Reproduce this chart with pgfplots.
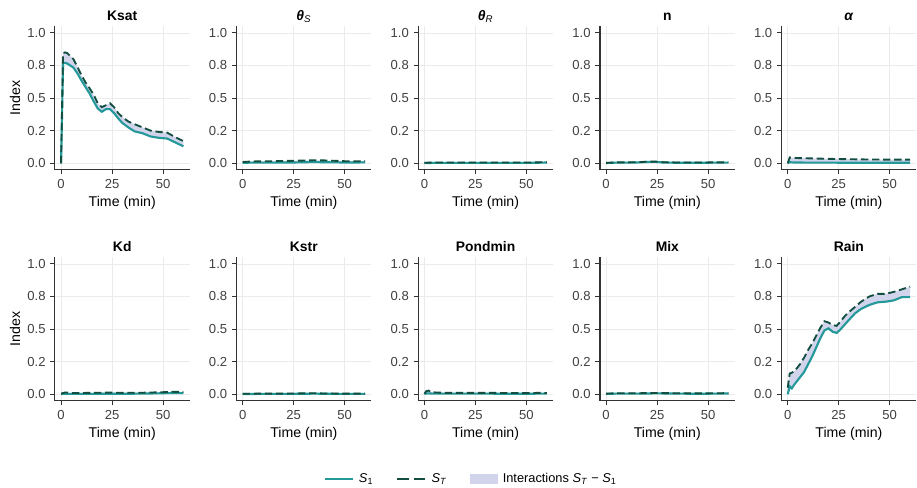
\documentclass[border=0pt]{standalone}
\usepackage{fontspec}
\setmainfont{Liberation Sans}
\usepackage{pgfplots}
\pgfplotsset{compat=1.18}
\usepackage{pgfplotstable}
\usepgfplotslibrary{fillbetween}

\definecolor{sone}{HTML}{25999A}
\definecolor{stot}{HTML}{124F40}
\definecolor{inter}{HTML}{D2D4EC}

% t = time (min), s1 = first order, st = total order
\pgfplotstableread{
t s1 st
0 0 0
1 0.77 0.845
2 0.77 0.85
3 0.765 0.845
4 0.755 0.83
6 0.735 0.80
8 0.69 0.74
10 0.635 0.675
12 0.585 0.62
14 0.535 0.575
16 0.475 0.525
18 0.42 0.46
20 0.395 0.43
22 0.415 0.445
24 0.415 0.46
26 0.385 0.43
28 0.345 0.385
30 0.31 0.355
33 0.275 0.32
36 0.245 0.30
40 0.23 0.275
44 0.205 0.25
48 0.195 0.24
52 0.19 0.235
56 0.16 0.20
60 0.13 0.17
}\ksat
\pgfplotstableread{
t s1 st
0 0.004 0.010
5 0.005 0.014
10 0.005 0.015
15 0.005 0.016
20 0.006 0.018
25 0.006 0.019
30 0.008 0.021
35 0.009 0.023
40 0.008 0.022
45 0.007 0.019
50 0.006 0.016
55 0.006 0.015
60 0.007 0.017
}\thetas
\pgfplotstableread{
t s1 st
0 0.002 0.004
5 0.003 0.006
10 0.003 0.006
20 0.003 0.006
30 0.003 0.006
40 0.003 0.006
50 0.003 0.006
55 0.004 0.007
60 0.006 0.009
}\thetar
\pgfplotstableread{
t s1 st
0 0.002 0.003
5 0.005 0.007
10 0.005 0.007
15 0.006 0.008
20 0.010 0.012
24 0.011 0.013
28 0.006 0.008
35 0.004 0.006
45 0.004 0.006
55 0.005 0.007
60 0.005 0.007
}\nn
\pgfplotstableread{
t s1 st
0 0.000 0.000
1 0.008 0.045
3 0.006 0.042
5 0.006 0.040
10 0.005 0.038
20 0.005 0.034
30 0.004 0.031
40 0.004 0.029
50 0.004 0.028
60 0.004 0.028
}\alphap
\pgfplotstableread{
t s1 st
0 0.002 0.005
2 0.004 0.014
5 0.003 0.010
10 0.003 0.010
20 0.004 0.012
25 0.004 0.013
30 0.004 0.011
40 0.005 0.012
50 0.008 0.016
55 0.010 0.019
60 0.009 0.018
}\kd
\pgfplotstableread{
t s1 st
0 0.002 0.004
10 0.003 0.005
20 0.003 0.005
30 0.004 0.007
35 0.005 0.008
40 0.004 0.006
50 0.003 0.005
60 0.003 0.005
}\kstr
\pgfplotstableread{
t s1 st
0 0.003 0.004
1 0.006 0.025
2 0.007 0.028
4 0.005 0.015
10 0.005 0.011
20 0.005 0.011
30 0.005 0.011
40 0.004 0.010
50 0.004 0.009
57 0.005 0.011
60 0.005 0.010
}\pondmin
\pgfplotstableread{
t s1 st
0 0.003 0.005
5 0.005 0.008
15 0.005 0.008
25 0.007 0.010
35 0.005 0.008
45 0.004 0.007
55 0.005 0.008
60 0.006 0.009
}\mix
\pgfplotstableread{
t s1 st
0 0 0.05
1 0.06 0.16
2 0.045 0.165
3 0.07 0.175
4 0.09 0.19
6 0.13 0.23
8 0.17 0.28
10 0.23 0.34
12 0.29 0.39
14 0.36 0.45
16 0.43 0.51
18 0.49 0.56
20 0.505 0.55
22 0.48 0.53
24 0.47 0.525
26 0.50 0.56
28 0.535 0.60
30 0.57 0.63
33 0.62 0.67
36 0.655 0.71
40 0.685 0.75
44 0.705 0.77
48 0.71 0.77
52 0.72 0.785
56 0.745 0.805
60 0.745 0.825
}\rain

\newcommand{\ticksize}{\fontsize{9.8}{11}\selectfont}
\newcommand{\labsize}{\fontsize{10.6}{12}\selectfont}

\pgfplotsset{
  panel/.style={
    scale only axis, width=100.95pt, height=107.6pt, anchor=south west,
    xmin=-3, xmax=63, ymin=-0.05, ymax=1.05,
    axis x line*=bottom, axis y line*=left,
    axis line style={-, draw=black!80, line width=0.8pt},
    xtick={0,25,50}, ytick={0,0.25,0.5,0.75,1},
    yticklabels={0.0,0.2,0.5,0.8,1.0},
    tick align=outside, major tick length=3.5pt,
    tick style={draw=black!80, line width=0.6pt},
    grid=major, major grid style={draw=black!8, line width=0.5pt},
    ticklabel style={font=\ticksize, text=black!75},
    /pgf/number format/assume math mode=true,
    xlabel={Time (min)},
    xlabel style={font=\labsize, at={(axis description cs:0.5,0)}, anchor=base, yshift=-27.3pt},
    ylabel style={font=\labsize, at={(axis description cs:-0.297,0.5)}, anchor=center},
    title style={font=\bfseries\fontsize{10.4}{12}\selectfont, at={(axis description cs:0.5,1)}, anchor=base, yshift=-1.6pt},
  },
  s1line/.style={draw=sone, line width=1.6pt},
  stline/.style={draw=stot, line width=1.4pt, dash pattern=on 5.5pt off 2.8pt},
  ribbon/.style={fill=inter, draw=none},
}

% ribbon first (from two hidden paths), then the two lines on top
\newcommand{\panel}[4]{%
  \begin{axis}[panel, at={#1}, title={#2}, #4]
    \addplot[draw=none, name path=a, forget plot] table[x=t, y=s1] {#3};
    \addplot[draw=none, name path=b, forget plot] table[x=t, y=st] {#3};
    \addplot[ribbon] fill between[of=a and b];
    \addplot[s1line] table[x=t, y=s1] {#3};
    \addplot[stline] table[x=t, y=st] {#3};
  \end{axis}}

\begin{document}
\begin{tikzpicture}
\panel{(41.2pt,237.9pt)}{Ksat}{\ksat}{ylabel={Index}}
\panel{(177.4pt,237.9pt)}{\textit{θ}\textsubscript{\normalfont\itshape S}}{\thetas}{}
\panel{(313.7pt,237.9pt)}{\textit{θ}\textsubscript{\normalfont\itshape R}}{\thetar}{}
\panel{(450.0pt,237.9pt)}{n}{\nn}{}
\panel{(586.2pt,237.9pt)}{\textit{α}}{\alphap}{}
\panel{(41.2pt,64.65pt)}{Kd}{\kd}{ylabel={Index}}
\panel{(177.4pt,64.65pt)}{Kstr}{\kstr}{}
\panel{(313.7pt,64.65pt)}{Pondmin}{\pondmin}{}
\panel{(450.0pt,64.65pt)}{Mix}{\mix}{}
\panel{(586.2pt,64.65pt)}{Rain}{\rain}{}

\begin{axis}[hide axis, scale only axis, width=10pt, height=10pt,
  at={(353.5pt,6pt)}, anchor=center, xmin=0, xmax=1, ymin=0, ymax=1,
  legend columns=3,
  legend style={at={(0.5,0.5)}, anchor=center, draw=none, fill=none,
    font=\fontsize{9.6}{11}\selectfont,
    /tikz/every odd column/.append style={column sep=2pt},
    /tikz/every even column/.append style={column sep=15.5pt}},
  legend image code/.code={\draw[#1] (0pt,0pt) -- (21pt,0pt);}]
\addplot[draw=none, forget plot] coordinates {(0.5,0.5)};
\addlegendimage{s1line}
\addlegendentry{\textit{S}\textsubscript{1}}
\addlegendimage{stline, dash pattern=on 8.5pt off 4pt}
\addlegendentry{\textit{S}\textsubscript{\textit{T}}}
\addlegendimage{legend image code/.code={\fill[inter] (0pt,-3.4pt) rectangle (20pt,3.4pt);}}
\addlegendentry{Interactions \textit{S}\textsubscript{\textit{T}} − \textit{S}\textsubscript{1}}
\end{axis}
\pgfresetboundingbox
\path[use as bounding box] (0,0) rectangle (687.75pt,365.25pt);
\end{tikzpicture}
\end{document}
